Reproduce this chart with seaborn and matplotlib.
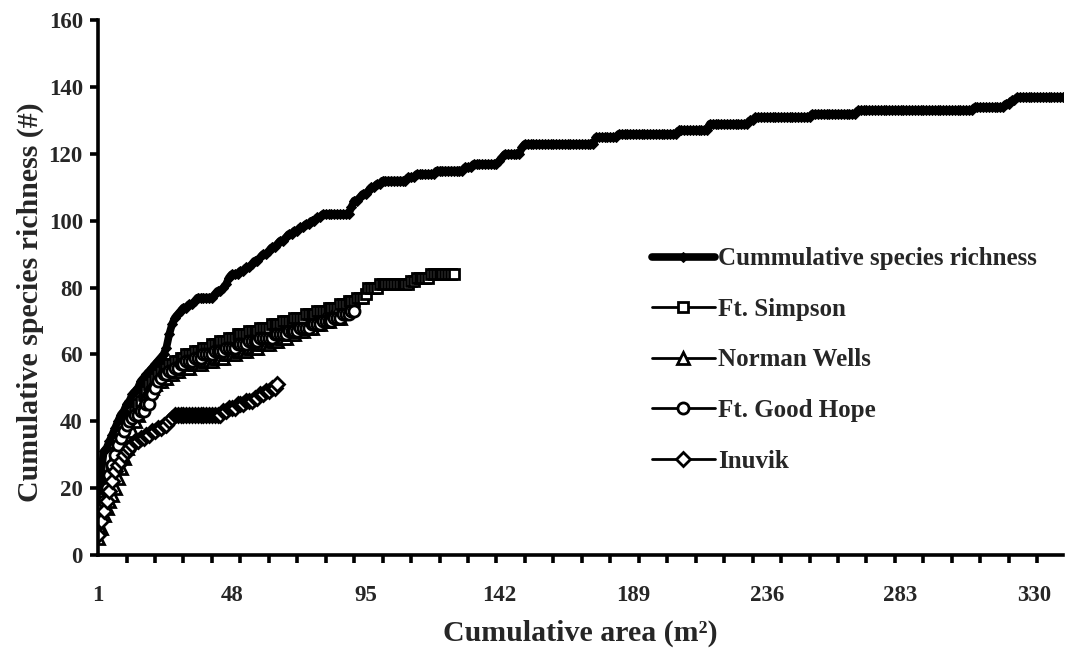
import numpy as np
import pandas as pd
import matplotlib
matplotlib.use("Agg")
import matplotlib.pyplot as plt
from matplotlib.ticker import FixedLocator, NullFormatter
import seaborn as sns

# Species-accumulation data: area index at which the cumulative count changes,
# and the count from that index on (held until the next change).
total_at = [1, 2, 3, 4, 5, 6, 7, 8, 9, 10, 11, 12, 13, 14, 15, 16, 17, 18, 19, 20,
            21, 22, 23, 24, 25, 26, 27, 28, 29, 30, 31, 33, 35, 36, 42, 43, 45, 46,
            47, 48, 51, 53, 55, 56, 58, 59, 61, 62, 64, 65, 67, 68, 70, 72, 74, 76,
            78, 80, 90, 91, 93, 94, 96, 97, 99, 101, 110, 113, 120, 130, 133, 142,
            143, 144, 150, 151, 176, 184, 205, 216, 230, 232, 252, 268, 309, 320,
            322, 324]
total_val = [17, 24, 31, 32, 34, 36, 38, 40, 42, 43, 45, 46, 48, 49, 50, 52, 53, 54,
             55, 56, 57, 58, 59, 60, 62, 66, 69, 71, 72, 73, 74, 75, 76, 77, 78, 79,
             80, 81, 83, 84, 85, 86, 87, 88, 89, 90, 91, 92, 93, 94, 95, 96, 97, 98,
             99, 100, 101, 102, 104, 106, 107, 108, 109, 110, 111, 112, 113, 114, 115,
             116, 117, 118, 119, 120, 122, 123, 125, 126, 127, 129, 130, 131, 132,
             133, 134, 135, 136, 137]
total_end = 340

simpson_at = [1, 2, 3, 4, 5, 6, 7, 8, 9, 10, 11, 12, 13, 14, 15, 16, 17, 18, 19, 20,
              21, 22, 23, 24, 26, 28, 30, 32, 35, 38, 41, 44, 47, 50, 54, 58, 62, 66,
              70, 74, 78, 82, 86, 89, 92, 95, 96, 100, 111, 113, 118]
simpson_val = [10, 14, 17, 20, 23, 26, 28, 31, 33, 35, 37, 39, 41, 43, 45, 46, 48, 49,
               51, 52, 53, 54, 55, 56, 57, 58, 59, 60, 61, 62, 63, 64, 65, 66, 67, 68,
               69, 70, 71, 72, 73, 74, 75, 76, 77, 78, 80, 81, 82, 83, 84]
simpson_end = 126

wells_at = [1, 2, 3, 4, 5, 6, 7, 8, 9, 10, 11, 12, 13, 14, 15, 16, 17, 18, 19, 20,
            21, 22, 24, 26, 28, 30, 34, 38, 42, 46, 50, 54, 58, 62, 65, 68, 71, 74,
            77, 80, 83]
wells_val = [5, 8, 12, 14, 16, 18, 20, 23, 26, 29, 32, 35, 37, 40, 42, 44, 46, 48, 49,
             50, 51, 52, 53, 54, 55, 56, 57, 58, 59, 60, 61, 62, 63, 64, 65, 66, 67,
             68, 69, 70, 71]
wells_end = 86

goodhope_at = [1, 2, 3, 4, 5, 6, 7, 8, 9, 10, 11, 12, 13, 14, 16, 18, 20, 21, 22, 23,
               24, 26, 28, 30, 32, 35, 38, 42, 46, 50, 54, 58, 63, 68, 72, 76, 80, 84,
               87, 90]
goodhope_val = [7, 12, 16, 20, 24, 27, 30, 33, 35, 37, 39, 40, 41, 42, 43, 45, 48, 50,
                52, 53, 54, 55, 56, 57, 58, 59, 60, 61, 62, 63, 64, 65, 66, 67, 68, 69,
                70, 71, 72, 73]
goodhope_end = 91

inuvik_at = [1, 2, 3, 4, 5, 6, 7, 8, 9, 10, 11, 12, 13, 14, 16, 18, 20, 22, 24, 26,
             27, 28, 45, 47, 50, 53, 56, 58, 60, 62, 64]
inuvik_val = [6, 10, 13, 16, 19, 22, 25, 27, 28, 30, 31, 32, 33, 34, 35, 36, 37, 38,
              39, 40, 41, 42, 43, 44, 45, 46, 47, 48, 49, 50, 51]
inuvik_end = 64

series_names = ["Cummulative species richness", "Ft. Simpson", "Norman Wells",
                "Ft. Good Hope", "Inuvik"]
x_tick_values = [1, 48, 95, 142, 189, 236, 283, 330]
y_tick_values = [0, 20, 40, 60, 80, 100, 120, 140, 160]


def hold_steps(at, val, end):
    """Cumulative count at every area index 1..end from its change points."""
    x = np.arange(1, end + 1)
    idx = np.searchsorted(np.asarray(at), x, side="right") - 1
    return x, np.asarray(val)[idx]


frames = []
for name, (at, val, end) in zip(series_names, [
        (total_at, total_val, total_end),
        (simpson_at, simpson_val, simpson_end),
        (wells_at, wells_val, wells_end),
        (goodhope_at, goodhope_val, goodhope_end),
        (inuvik_at, inuvik_val, inuvik_end)]):
    x, y = hold_steps(at, val, end)
    frames.append(pd.DataFrame({"area": x, "richness": y, "site": name}))
df = pd.concat(frames, ignore_index=True)

sns.set_theme(style="white")
plt.rcParams["font.family"] = ["Liberation Serif", "DejaVu Serif"]
plt.rcParams["font.weight"] = "bold"

fig = plt.figure(figsize=(10.66, 6.52), dpi=100)
ax = fig.add_axes([0.092, 0.149, 0.905, 0.820])

site_marker = dict(markerfacecolor="white", markeredgecolor="black",
                   markeredgewidth=2.0, lw=2.0)
styles = {
    "Cummulative species richness": dict(marker="D", markersize=5.0, lw=5.5,
                                         markerfacecolor="black",
                                         markeredgecolor="black"),
    "Ft. Simpson": dict(marker="s", markersize=7.5, **site_marker),
    "Norman Wells": dict(marker="^", markersize=8.5, **site_marker),
    "Ft. Good Hope": dict(marker="o", markersize=8.0, **site_marker),
    "Inuvik": dict(marker="D", markersize=7.5, **site_marker),
}

for name in series_names:
    sub = df[df["site"] == name]
    sns.lineplot(data=sub, x="area", y="richness", ax=ax, color="black",
                 estimator=None, sort=False, label=name, **styles[name])

ax.set_xlim(1, 340)
ax.set_ylim(0, 160)

# labels every 47 plots, short tick marks every 10 plots
ax.xaxis.set_major_locator(FixedLocator(x_tick_values))
ax.set_xticklabels([str(v) for v in x_tick_values])
ax.xaxis.set_minor_locator(FixedLocator(list(range(1, 341, 10))))
ax.xaxis.set_minor_formatter(NullFormatter())
ax.tick_params(axis="x", which="major", length=0, pad=22, labelsize=16.5)
ax.tick_params(axis="x", which="minor", bottom=True, length=6, width=2.6,
               direction="out", color="black")
ax.set_yticks(y_tick_values)
ax.tick_params(axis="y", which="major", left=True, length=6, width=2.6,
               direction="out", color="black", pad=5, labelsize=16.5)

for side in ("top", "right"):
    ax.spines[side].set_visible(False)
for side in ("left", "bottom"):
    ax.spines[side].set_color("black")
    ax.spines[side].set_linewidth(2.6)

ax.set_xlabel("Cumulative area (m²)", fontsize=21.5, fontweight="bold")
ax.set_ylabel("Cumulative species richness (#)", fontsize=21.5, fontweight="bold")
ax.xaxis.label.set_va("center")
ax.yaxis.label.set_va("center")
ax.xaxis.set_label_coords(0.5, -0.146)
ax.yaxis.set_label_coords(-0.0705, 0.473)

leg = ax.legend(loc="center left", bbox_to_anchor=(652 / 1066, 1 - 360 / 652),
                bbox_transform=fig.transFigure, frameon=False,
                prop={"family": "Liberation Serif", "weight": "bold", "size": 18},
                handlelength=2.5, handletextpad=0.15, labelspacing=1.1,
                borderpad=0, borderaxespad=0)

fig.savefig("out.png", dpi=100, facecolor="white")
